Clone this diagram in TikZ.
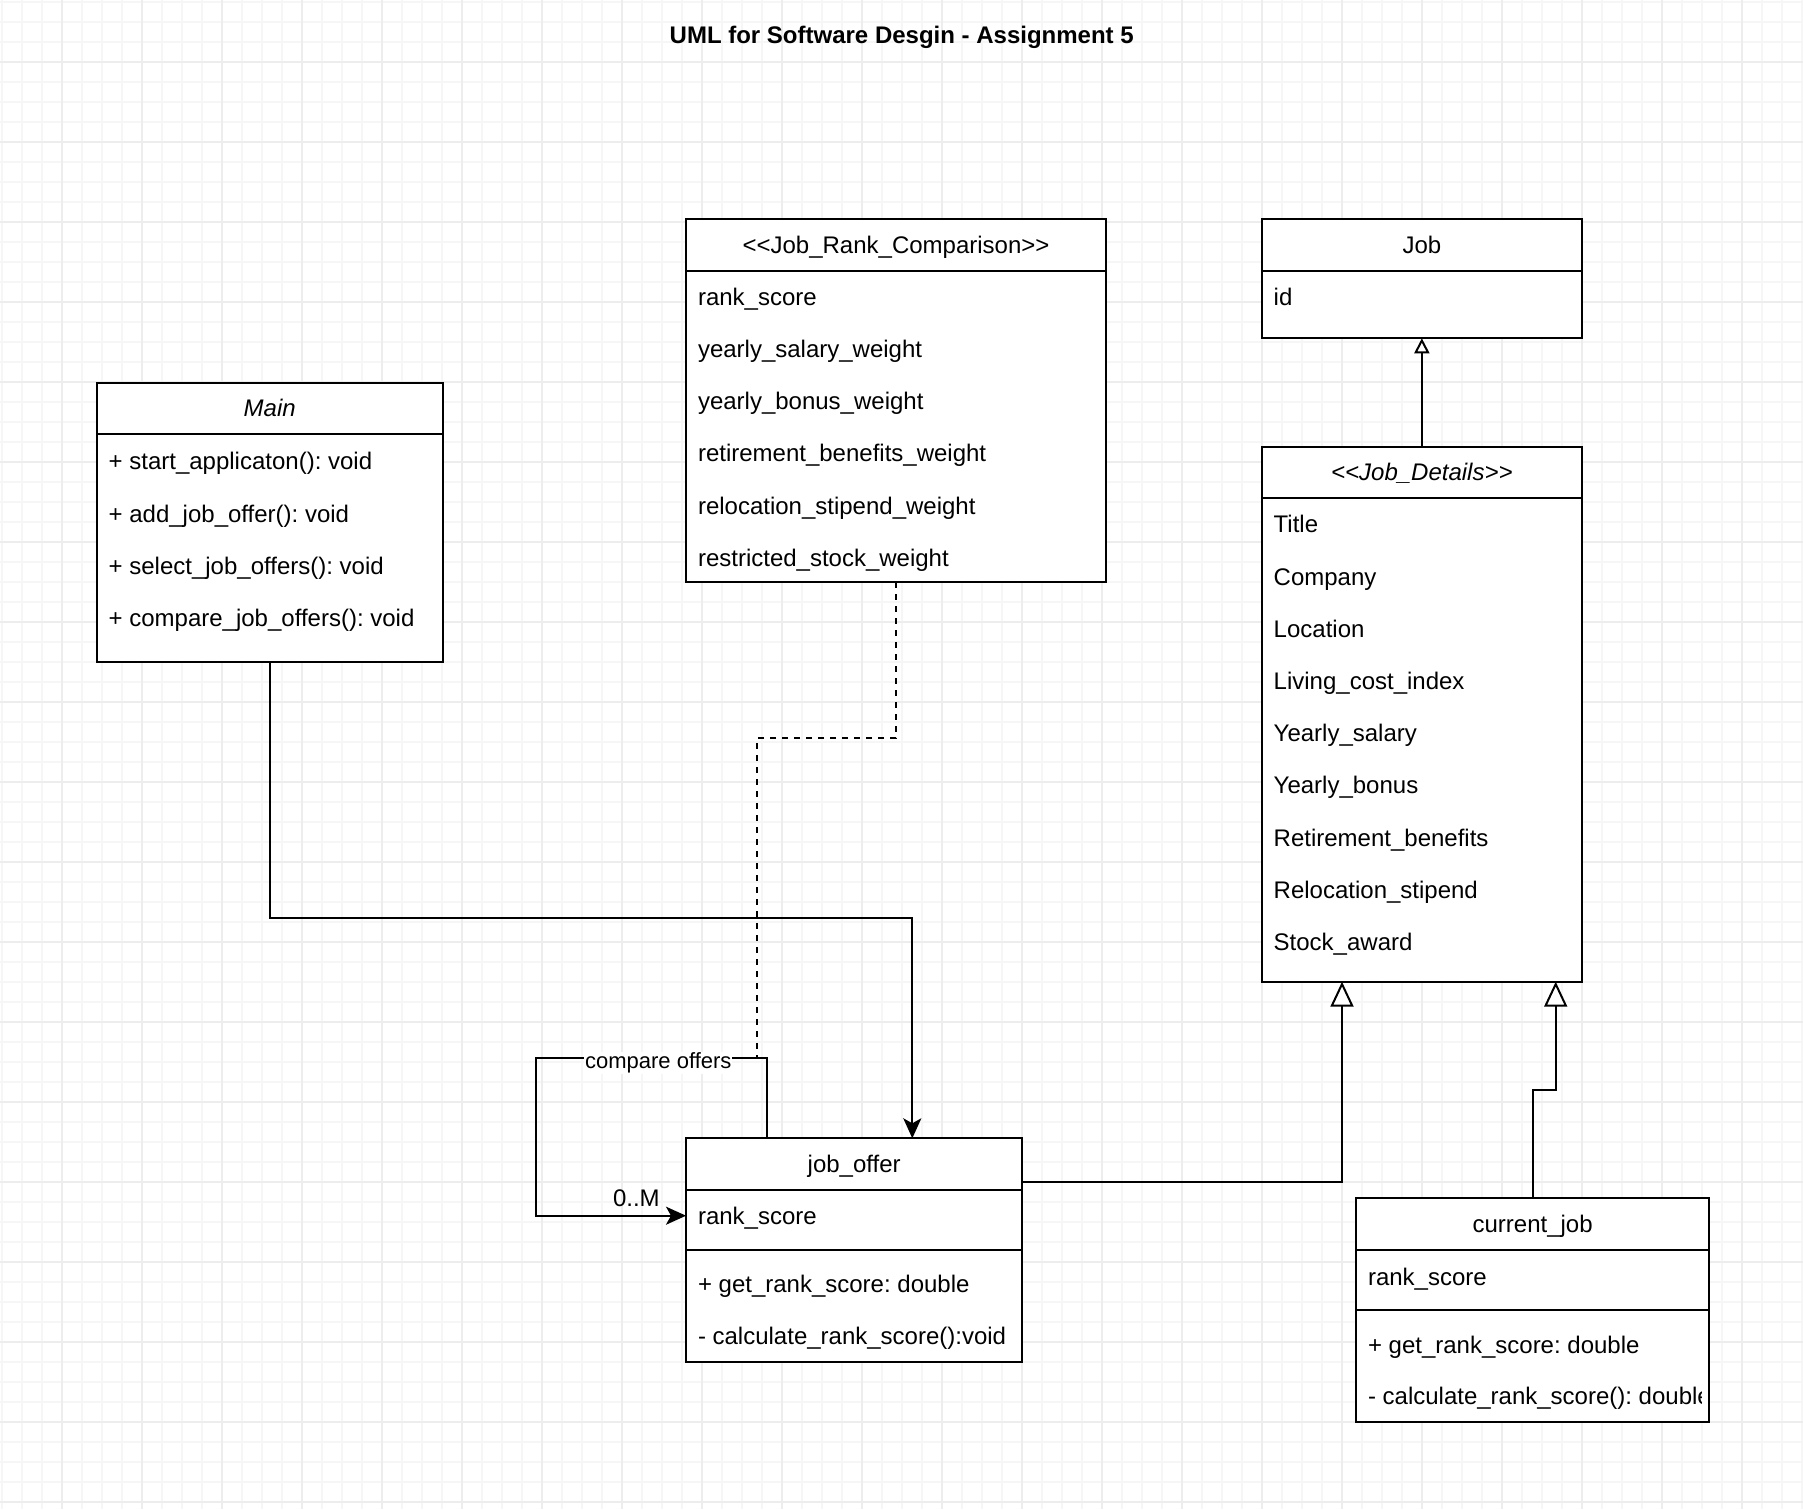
\documentclass[tikz,border=0pt]{standalone}
\usepackage{fontspec}
\setmainfont{Liberation Sans}
\usetikzlibrary{arrows.meta}
\frenchspacing
\definecolor{minorgrid}{RGB}{246,246,246}
\definecolor{majorgrid}{RGB}{237,237,237}
\tikzset{
  umlbox/.style={draw=black, fill=white, line width=2pt, inner sep=0pt, outer sep=0pt, anchor=north west},
  sepline/.style={draw=black, line width=2pt},
  rowtxt/.style={anchor=base west, inner sep=0pt, outer sep=0pt, font=\frenchspacing\fontsize{24}{28}\selectfont},
  headtxt/.style={anchor=base, inner sep=0pt, outer sep=0pt, font=\frenchspacing\fontsize{24}{28}\selectfont},
  headit/.style={anchor=base, inner sep=0pt, outer sep=0pt, font=\frenchspacing\itshape\fontsize{24}{28}\selectfont},
  lbltxt/.style={anchor=base, inner sep=1pt, outer sep=0pt, fill=white, font=\frenchspacing\fontsize{22}{26}\selectfont},
  link/.style={draw=black, line width=2pt},
  arr/.style={link, -{Stealth[length=20pt,width=18pt,inset=5pt]}},
  genbig/.style={link, -{Triangle[length=25pt,width=23pt,fill=white]}},
  gensmall/.style={link, -{Triangle[length=15pt,width=15pt,fill=white]}},
  dep/.style={link, dash pattern=on 6pt off 6pt},
  gminor/.style={draw=minorgrid, line width=2pt},
  gmajor/.style={draw=majorgrid, line width=2pt}
}
\begin{document}
\begin{tikzpicture}[x=1pt,y=-1pt]
\useasboundingbox (0,0) rectangle (1803,1509);
\fill[white] (0,0) rectangle (1803,1509);
% grid
\foreach \i in {0,...,90} { \draw[gminor] ({2.3+20*\i},0) -- ({2.3+20*\i},1509); }
\foreach \j in {0,...,75} { \draw[gminor] (0,{2.3+20*\j}) -- (1803,{2.3+20*\j}); }
\foreach \i in {0,...,21} { \draw[gmajor] ({62.3+80*\i},0) -- ({62.3+80*\i},1509); }
\foreach \j in {0,...,18} { \draw[gmajor] (0,{62.3+80*\j}) -- (1803,{62.3+80*\j}); }

% title
\node[anchor=base, inner sep=0pt, font=\frenchspacing\bfseries\fontsize{24}{28}\selectfont] (title) at (901.7,44) {UML for Software Desgin - Assignment 5};

% Job_Rank_Comparison
\node[umlbox, minimum width=420pt, minimum height=363.3pt] (jrc) at (686,219) {};
\draw[sepline] (686,270.7) -- (1106,270.7);
\node[headtxt] (jrc-h) at (896,253.2) {<\kern0pt<Job\_Rank\_Comparison>\kern0pt>};
\foreach \t [count=\k from 0] in {rank\_score, yearly\_salary\_weight, yearly\_bonus\_weight, retirement\_benefits\_weight, relocation\_stipend\_weight, restricted\_stock\_weight}
  { \node[rowtxt] (jrc-r\k) at (698,{305.3+52.2*\k}) {\t}; }

% Job
\node[umlbox, minimum width=320.3pt, minimum height=119.3pt] (job) at (1261.7,219) {};
\draw[sepline] (1261.7,270.7) -- (1582,270.7);
\node[headtxt] (job-h) at (1421.85,253.2) {Job};
\node[rowtxt] (job-r0) at (1273.7,305.3) {id};

% Main
\node[umlbox, minimum width=346pt, minimum height=279.6pt] (main) at (96.7,382.7) {};
\draw[sepline] (96.7,434.3) -- (442.7,434.3);
\node[headit] (main-h) at (269.7,416.8) {Main};
\foreach \t [count=\k from 0] in {+ start\_applicaton(): void, + add\_job\_offer(): void, + select\_job\_offers(): void, + compare\_job\_offers(): void}
  { \node[rowtxt] (main-r\k) at (108.7,{469.8+52.2*\k}) {\t}; }

% Job_Details
\node[umlbox, minimum width=320.3pt, minimum height=535pt] (jd) at (1261.7,446.7) {};
\draw[sepline] (1261.7,498) -- (1582,498);
\node[headit] (jd-h) at (1421.85,480.65) {<\kern0pt<Job\_Details>\kern0pt>};
\foreach \t [count=\k from 0] in {Title, Company, Location, Living\_cost\_index, Yearly\_salary, Yearly\_bonus, Retirement\_benefits, Relocation\_stipend, Stock\_award}
  { \node[rowtxt] (jd-r\k) at (1273.7,{532.8+52.2*\k}) {\t}; }

% job_offer
\node[umlbox, minimum width=336.3pt, minimum height=223.4pt] (jo) at (686,1138.3) {};
\draw[sepline] (686,1190) -- (1022.3,1190);
\draw[sepline] (686,1250) -- (1022.3,1250);
\node[headtxt] (jo-h) at (854.15,1172.5) {job\_offer};
\node[rowtxt] (jo-r0) at (698,1224.5) {rank\_score};
\node[rowtxt] (jo-m0) at (698,1292.5) {+ get\_rank\_score: double};
\node[rowtxt] (jo-m1) at (698,1344.5) {- calculate\_rank\_score():void};

% current_job
\node[umlbox, minimum width=353.3pt, minimum height=223.4pt] (cj) at (1356,1198.3) {};
\draw[sepline] (1356,1250) -- (1709.3,1250);
\draw[sepline] (1356,1310) -- (1709.3,1310);
\node[headtxt] (cj-h) at (1532.65,1232.5) {current\_job};
\node[rowtxt] (cj-r0) at (1368,1285) {rank\_score};
\node[rowtxt] (cj-m0) at (1368,1353) {+ get\_rank\_score: double};
\begin{scope}
  \clip (1356,1370) rectangle (1701.7,1420);
  \node[rowtxt] (cj-m1) at (1368,1404.5) {- calculate\_rank\_score(): double};
\end{scope}

% connectors
\coordinate (mj) at (912.3,917.7);
\draw[arr] (main.south) |- (mj) -- (mj |- jo.north);

\coordinate (lt) at (766.7,1058.3);
\coordinate (ll) at (536,1058.3);
\draw[arr] (lt |- jo.north) -- (lt) -- (ll) |- (jo.west |- 0,1215.7);

\coordinate (dk) at (756.7,738.3);
\draw[dep] (jrc.south) |- (dk) -- (dk |- lt);

\node[lbltxt] (cmp) at (658.3,1068.5) {compare offers};
\node[rowtxt] (mult) at (613,1206.7) {0..M};

\coordinate (g1) at (1342,1181.7);
\draw[genbig] (jo.east |- g1) -- (g1) -- (g1 |- jd.south);

\coordinate (g2a) at (1532.7,1090);
\coordinate (g2b) at (1555.7,1090);
\draw[genbig] (g2a |- cj.north) -- (g2a) -- (g2b) -- (g2b |- jd.south);

\draw[gensmall] (jd.north) -- (job.south);
\end{tikzpicture}
\end{document}
